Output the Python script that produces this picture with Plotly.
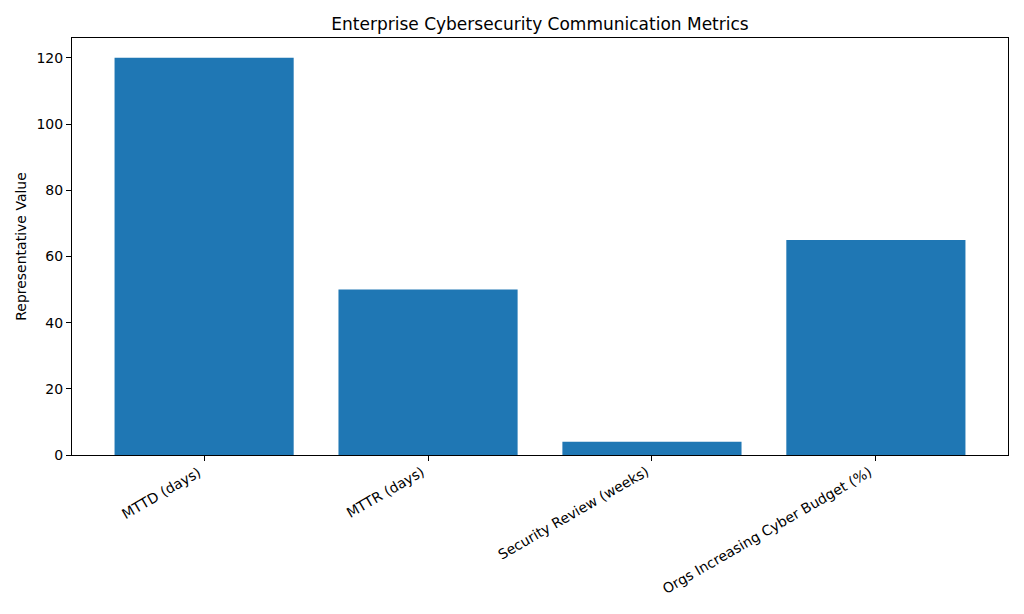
import plotly.graph_objects as go

categories = ["MTTD (days)", "MTTR (days)", "Security Review (weeks)", "Orgs Increasing Cyber Budget (%)"]
values = [120, 50, 4, 65]
y_ticks = [0, 20, 40, 60, 80, 100, 120]

positions = list(range(len(categories)))
FONT = "DejaVu Sans"

fig = go.Figure(go.Bar(
    x=positions, y=values, width=0.8,
    marker=dict(color="#1f77b4", line=dict(width=0)),
))

axis_common = dict(
    showline=True, linecolor="black", linewidth=1, mirror=True,
    ticks="outside", ticklen=5, tickcolor="black", tickwidth=1,
    showgrid=False, zeroline=False,
    tickfont=dict(family=FONT, size=14, color="black"),
)

annotations = [
    dict(x=p, y=0, xref="x", yref="paper", text=c, showarrow=False,
         textangle=-30, xanchor="right", yanchor="top", yshift=-6, xshift=2,
         font=dict(family=FONT, size=14, color="black"))
    for p, c in zip(positions, categories)
]

fig.update_layout(
    width=1024, height=614,
    margin=dict(l=72, r=16, t=38, b=159),
    paper_bgcolor="white", plot_bgcolor="white",
    title=dict(text="Enterprise Cybersecurity Communication Metrics",
               x=0.5, xref="paper", y=1 - 24 / 614, yanchor="middle",
               font=dict(family=FONT, size=17, color="black")),
    xaxis=dict(range=[-0.59, 3.59], tickvals=positions, ticktext=[""] * len(positions),
               **axis_common),
    yaxis=dict(range=[0, 126], tickvals=y_ticks,
               title=dict(text="Representative Value", standoff=6,
                          font=dict(family=FONT, size=14, color="black")),
               **axis_common),
    annotations=annotations,
    showlegend=False,
)

fig.write_html("out.html")
